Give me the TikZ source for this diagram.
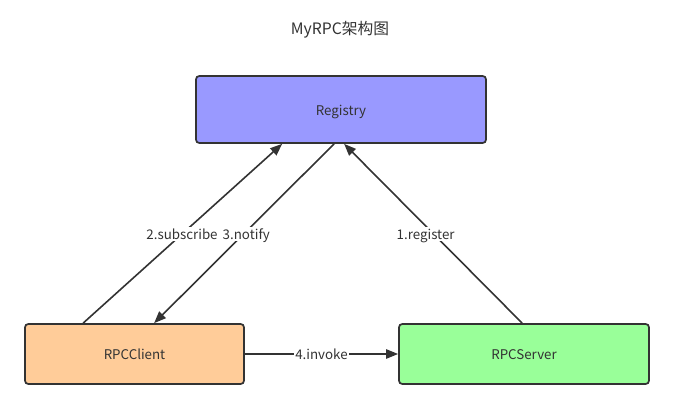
\documentclass[tikz,border=0pt]{standalone}
\usepackage{fontspec}
\setmainfont{Noto Sans CJK SC}
\usepackage{tikz}
\usetikzlibrary{positioning, arrows.meta, calc}
\definecolor{lineGray}{HTML}{333333}
\definecolor{regBlue}{HTML}{9999FF}
\definecolor{cliOrange}{HTML}{FFCC99}
\definecolor{srvGreen}{HTML}{99FF99}

\begin{document}
\begin{tikzpicture}[x=0.75pt, y=-0.75pt,
	box/.style={draw=lineGray, line width=1.3pt, rounded corners=2.5pt, text=lineGray, font=\fontsize{10}{12}\selectfont, text height=8.5pt, text depth=0pt, anchor=center},
	link/.style={draw=lineGray, line width=1.2pt, -{Triangle[length=9pt, width=7pt]}},
	lbl/.style={fill=white, text=lineGray, inner sep=1pt, font=\fontsize{10}{12}\selectfont, text height=8pt, text depth=0pt}]
	\useasboundingbox (0,0) rectangle (675,417);
	
	\node[text=lineGray, font=\fontsize{11.8}{14}\selectfont] (title) at (340,30) {MyRPC架构图};
	
	\node[box, fill=regBlue, minimum width=217.5pt, minimum height=50.25pt] (registry) at (341,109.5) {Registry};
	\node[box, fill=cliOrange, minimum width=164.25pt, minimum height=45pt] (client) at (134.5,354) {RPCClient};
	\node[box, fill=srvGreen, minimum width=187.5pt, minimum height=45pt] (server) at (524,354) {RPCServer};
	
	% end points on the box borders
	\coordinate (subFrom) at ($(client.north west)+(59,0)$);
	\coordinate (subTo) at ($(registry.south west)+(87,0)$);
	\coordinate (notFrom) at ($(registry.south west)+(139,0)$);
	\coordinate (notTo) at ($(client.north west)+(130,0)$);
	\coordinate (regFrom) at ($(server.north west)+(124,0)$);
	\coordinate (regTo) at ($(registry.south west)+(149,0)$);
	
	\draw[link] (subFrom) -- node[lbl, pos=0.497] {2.subscribe} (subTo);
	\draw[link] (notFrom) -- node[lbl, pos=0.503, xshift=2pt] {3.notify} (notTo);
	\draw[link] (regFrom) -- node[lbl, pos=0.497, xshift=-6pt] {1.register} (regTo);
	\draw[link] (client.east) -- node[lbl, pos=0.5] {4.invoke} (server.west);
\end{tikzpicture}
\end{document}
